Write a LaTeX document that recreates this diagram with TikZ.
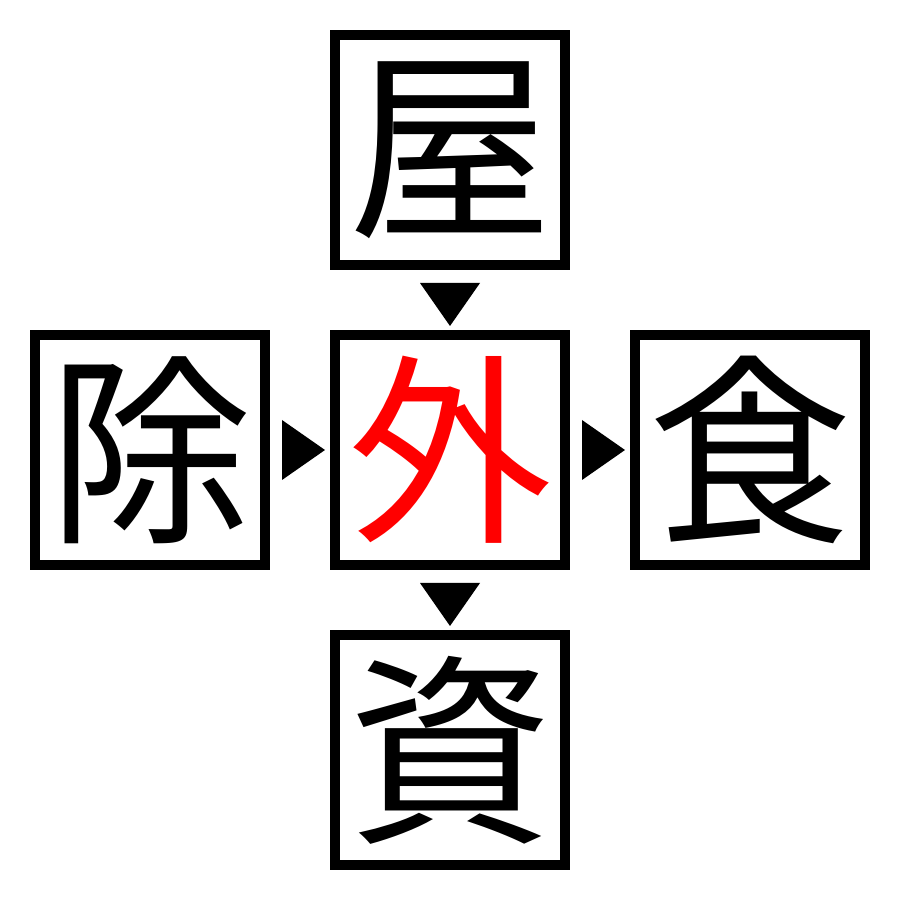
\documentclass[tikz,border=0pt]{standalone}
\usepackage{fontspec}
\newfontfamily\cjk{Noto Sans CJK JP}
\usetikzlibrary{calc}

\begin{document}
\begin{tikzpicture}[line join=miter]
	\tikzstyle{kbox}=[draw=black,line width=0.1cm,minimum size=2.3cm,inner sep=0pt,font=\cjk\fontsize{58}{58}\selectfont];
	\useasboundingbox (0,0) rectangle (9,9);
	%% Boxes
	\node[kbox] (M) at (4.5,4.5) {\textcolor{red}{外}};
	\node[kbox] (T) at (4.5,7.5) {屋};
	\node[kbox] (B) at (4.5,1.5) {資};
	\node[kbox] (L) at (1.5,4.5) {除};
	\node[kbox] (R) at (7.5,4.5) {食};
	%% Arrows
	\coordinate (TM) at ($(T.south)!0.5!(M.north)$);
	\coordinate (MB) at ($(M.south)!0.5!(B.north)$);
	\coordinate (LM) at ($(L.east)!0.5!(M.west)$);
	\coordinate (MR) at ($(M.east)!0.5!(R.west)$);
	\fill (TM) ++(-0.3,0.17) -- ++(0.6,0) -- ++(-0.3,-0.43) -- cycle;
	\fill (MB) ++(-0.3,0.17) -- ++(0.6,0) -- ++(-0.3,-0.43) -- cycle;
	\fill (LM) ++(-0.18,0.3) -- ++(0,-0.6) -- ++(0.43,0.3) -- cycle;
	\fill (MR) ++(-0.18,0.3) -- ++(0,-0.6) -- ++(0.43,0.3) -- cycle;
\end{tikzpicture}
\end{document}
